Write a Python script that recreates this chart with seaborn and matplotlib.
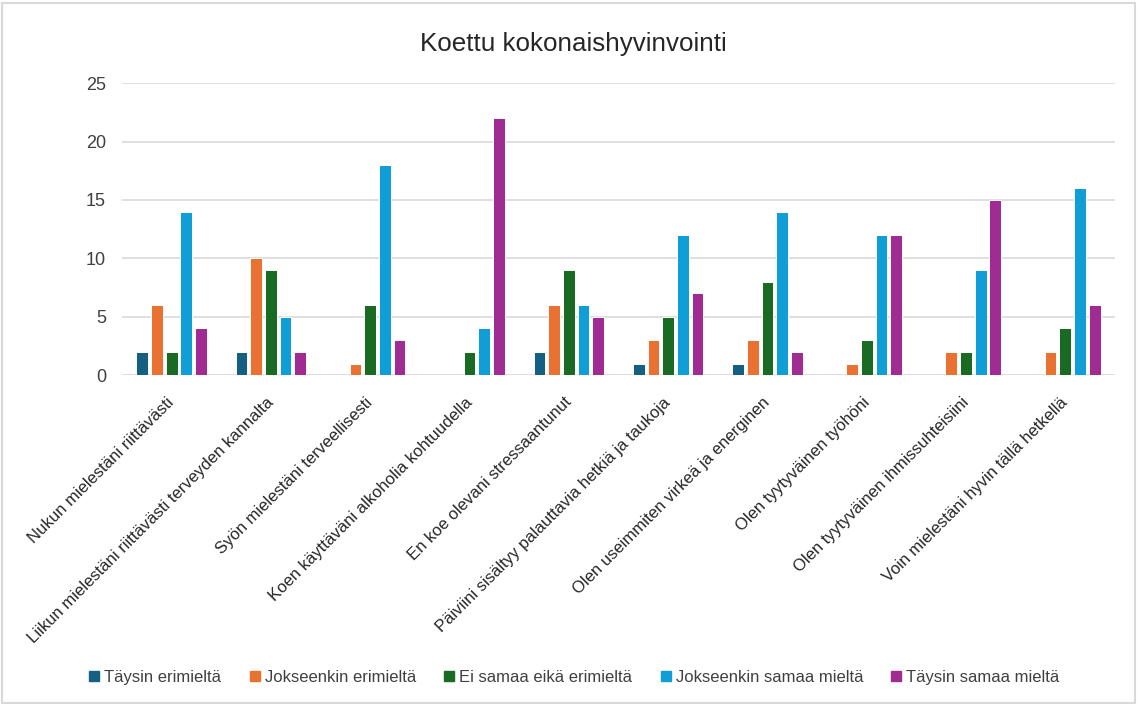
import numpy as np
import pandas as pd
import seaborn as sns
import matplotlib.pyplot as plt
import matplotlib.transforms as mtransforms
from matplotlib.patches import Rectangle

categories = [
    "Nukun mielestäni riittävästi",
    "Liikun mielestäni riittävästi terveyden kannalta",
    "Syön mielestäni terveellisesti",
    "Koen käyttäväni alkoholia kohtuudella",
    "En koe olevani stressaantunut",
    "Päiviini sisältyy palauttavia hetkiä ja taukoja",
    "Olen useimmiten virkeä ja energinen",
    "Olen tyytyväinen työhöni",
    "Olen tyytyväinen ihmissuhteisiini",
    "Voin mielestäni hyvin tällä hetkellä",
]
series = [
    "Täysin erimieltä",
    "Jokseenkin erimieltä",
    "Ei samaa eikä erimieltä",
    "Jokseenkin samaa mieltä",
    "Täysin samaa mieltä",
]
taysin_eri = [2, 2, 0, 0, 2, 1, 1, 0, 0, 0]
jokseenkin_eri = [6, 10, 1, 0, 6, 3, 3, 1, 2, 2]
ei_samaa_eika_eri = [2, 9, 6, 2, 9, 5, 8, 3, 2, 4]
jokseenkin_samaa = [14, 5, 18, 4, 6, 12, 14, 12, 9, 16]
taysin_samaa = [4, 2, 3, 22, 5, 7, 2, 12, 15, 6]
colors = ["#156082", "#E97132", "#196B24", "#0F9ED5", "#A02B93"]

values = [taysin_eri, jokseenkin_eri, ei_samaa_eika_eri, jokseenkin_samaa, taysin_samaa]
rows = []
for s, vals in zip(series, values):
    for c, v in zip(categories, vals):
        rows.append({"kategoria": c, "vastaus": s, "lkm": v if v != 0 else np.nan})
df = pd.DataFrame(rows)

sns.set_theme(style="white")
plt.rcParams["font.family"] = ["Liberation Sans", "DejaVu Sans"]

fig = plt.figure(figsize=(11.4, 7.04), dpi=100)
ax = fig.add_axes([0.107, 0.467, 0.871, 0.415])

sns.barplot(data=df, x="kategoria", y="lkm", hue="vastaus", order=categories,
            hue_order=series, palette=colors, saturation=1, width=0.74, gap=0.2,
            edgecolor="white", linewidth=0.7, ax=ax, errorbar=None, zorder=3)

ax.set_ylim(0, 25)
ax.set_yticks([0, 5, 10, 15, 20, 25])
ax.set_xlim(-0.5, len(categories) - 0.5)
ax.yaxis.grid(True, color="#D9D9D9", linewidth=1.2, zorder=0)
ax.set_axisbelow(True)
for sp in ax.spines.values():
    sp.set_visible(False)
ax.set_xlabel("")
ax.set_ylabel("")
ax.tick_params(axis="y", labelsize=13, colors="#404040", pad=11.5, length=0)
ax.tick_params(axis="x", length=0, pad=14)
ax.set_xticks(range(len(categories)))
ax.set_xticklabels(categories, rotation=45, ha="right", rotation_mode="anchor",
                   fontsize=12, color="#262626")
offset = mtransforms.ScaledTranslation(-5 / 100, 0, fig.dpi_scale_trans)
for lbl in ax.get_xticklabels():
    lbl.set_transform(lbl.get_transform() + offset)

ax.legend_.remove()
handles = [Rectangle((0, 0), 1, 1, color=c) for c in colors]
fig.legend(handles, series, loc="center", bbox_to_anchor=(0.504, 0.038), ncol=5,
           frameon=False, fontsize=12, handlelength=0.6, handleheight=0.6,
           handletextpad=0.3, columnspacing=1.7, labelcolor="#404040")

fig.text(0.503, 0.938, "Koettu kokonaishyvinvointi", ha="center", va="center",
         fontsize=18.7, color="#262626")

fig.patches.append(Rectangle((0.002, 0.002), 0.994, 0.994, transform=fig.transFigure,
                             fill=False, edgecolor="#D9D9D9", linewidth=1.5))

fig.savefig("out.png", dpi=100)
